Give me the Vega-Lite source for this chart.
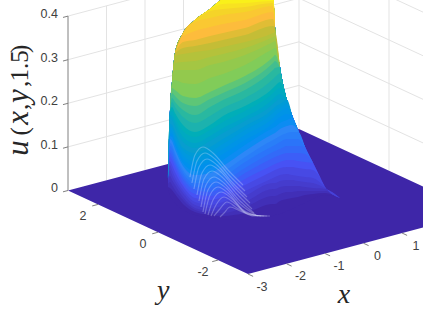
{"$schema":"https://vega.github.io/schema/vega-lite/v6.json","width":423,"height":317,"padding":0,"autosize":{"type":"none"},"background":"white","config":{"view":{"stroke":null}},
"datasets":{
"sil":[{"p":168,"top":178,"bot":190},{"p":170,"top":110,"bot":196},{"p":172,"top":82,"bot":199},{"p":175,"top":53,"bot":203},{"p":183,"top":33,"bot":210},{"p":195,"top":20,"bot":215},{"p":210,"top":9,"bot":218},{"p":223,"top":-1,"bot":219},{"p":245,"top":-5,"bot":220},{"p":273,"top":-5,"bot":216},{"p":275,"top":27,"bot":215},{"p":280,"top":67,"bot":214},{"p":287,"top":100,"bot":211},{"p":292,"top":115,"bot":209},{"p":298,"top":130,"bot":206},{"p":305,"top":147,"bot":203},{"p":313,"top":163,"bot":199},{"p":325,"top":187,"bot":195},{"p":340,"top":198,"bot":198}],
"floor":[{"p":68,"top":190.5,"bot":190.5},{"p":248,"top":142.8,"bot":274},{"p":299,"top":129,"bot":260.5},{"p":479,"top":212.5,"bot":212.5}],
"grid":[{"x":-2,"y":3,"u":0,"x2":-2,"y2":3,"u2":0.4},{"x":-1,"y":3,"u":0,"x2":-1,"y2":3,"u2":0.4},{"x":0,"y":3,"u":0,"x2":0,"y2":3,"u2":0.4},{"x":1,"y":3,"u":0,"x2":1,"y2":3,"u2":0.4},{"x":2,"y":3,"u":0,"x2":2,"y2":3,"u2":0.4},{"x":3,"y":3,"u":0,"x2":3,"y2":3,"u2":0.4},{"x":3,"y":2,"u":0,"x2":3,"y2":2,"u2":0.4},{"x":3,"y":0,"u":0,"x2":3,"y2":0,"u2":0.4},{"x":-3,"y":3,"u":0.1,"x2":3,"y2":3,"u2":0.1},{"x":-3,"y":3,"u":0.2,"x2":3,"y2":3,"u2":0.2},{"x":-3,"y":3,"u":0.3,"x2":3,"y2":3,"u2":0.3},{"x":-3,"y":3,"u":0.4,"x2":3,"y2":3,"u2":0.4},{"x":3,"y":3,"u":0.1,"x2":3,"y2":-3,"u2":0.1},{"x":3,"y":3,"u":0.2,"x2":3,"y2":-3,"u2":0.2},{"x":3,"y":3,"u":0.3,"x2":3,"y2":-3,"u2":0.3},{"x":3,"y":3,"u":0.4,"x2":3,"y2":-3,"u2":0.4}],
"ticks":[{"x":-3,"y":3,"u":0,"x2":-3,"y2":3,"u2":0.4},{"x":-3,"y":3,"u":0,"x2":-3.13,"y2":3,"u2":0},{"x":-3,"y":3,"u":0.1,"x2":-3.13,"y2":3,"u2":0.1},{"x":-3,"y":3,"u":0.2,"x2":-3.13,"y2":3,"u2":0.2},{"x":-3,"y":3,"u":0.3,"x2":-3.13,"y2":3,"u2":0.3},{"x":-3,"y":3,"u":0.4,"x2":-3.13,"y2":3,"u2":0.4},{"x":-3,"y":2,"u":0,"x2":-3.15,"y2":2,"u2":0},{"x":-3,"y":0,"u":0,"x2":-3.15,"y2":0,"u2":0},{"x":-3,"y":-2,"u":0,"x2":-3.15,"y2":-2,"u2":0},{"x":-3,"y":-3,"u":0,"x2":-3,"y2":-3.17,"u2":0},{"x":-2,"y":-3,"u":0,"x2":-2,"y2":-3.17,"u2":0},{"x":-1,"y":-3,"u":0,"x2":-1,"y2":-3.17,"u2":0},{"x":0,"y":-3,"u":0,"x2":0,"y2":-3.17,"u2":0},{"x":1,"y":-3,"u":0,"x2":1,"y2":-3.17,"u2":0}],
"labels":[{"axis":"u","x":-3,"y":3,"u":0,"label":"0"},{"axis":"u","x":-3,"y":3,"u":0.1,"label":"0.1"},{"axis":"u","x":-3,"y":3,"u":0.2,"label":"0.2"},{"axis":"u","x":-3,"y":3,"u":0.3,"label":"0.3"},{"axis":"u","x":-3,"y":3,"u":0.4,"label":"0.4"},{"axis":"y","x":-3,"y":2,"u":0,"label":"2"},{"axis":"y","x":-3,"y":0,"u":0,"label":"0"},{"axis":"y","x":-3,"y":-2,"u":0,"label":"-2"},{"axis":"x","x":-3,"y":-3,"u":0,"label":"-3"},{"axis":"x","x":-2,"y":-3,"u":0,"label":"-2"},{"axis":"x","x":-1,"y":-3,"u":0,"label":"-1"},{"axis":"x","x":0,"y":-3,"u":0,"label":"0"},{"axis":"x","x":1,"y":-3,"u":0,"label":"1"}],
"titles":[{"x":-2.16,"y":-5.12,"u":0,"label":"x"},{"x":-5.0,"y":-2.74,"u":0,"label":"y"}],
"zit":[{"x":-3.665,"y":3.48,"u":0.098,"label":"u"},{"x":-3.665,"y":3.48,"u":0.167,"label":"x"},{"x":-3.665,"y":3.48,"u":0.217,"label":"y"}],
"zrm":[{"x":-3.665,"y":3.48,"u":0.136,"label":"("},{"x":-3.665,"y":3.48,"u":0.192,"label":","},{"x":-3.665,"y":3.48,"u":0.245,"label":","},{"x":-3.665,"y":3.48,"u":0.286,"label":"1.5"},{"x":-3.665,"y":3.48,"u":0.325,"label":")"}],
"arcs":[{"a":0,"p":190,"y":177},{"a":0,"p":195,"y":155},{"a":0,"p":203,"y":147},{"a":0,"p":213,"y":153},{"a":0,"p":227,"y":169},{"a":0,"p":243,"y":185},{"a":1,"p":192,"y":183},{"a":1,"p":197,"y":161},{"a":1,"p":205,"y":153},{"a":1,"p":215,"y":159},{"a":1,"p":229,"y":175},{"a":1,"p":245,"y":191},{"a":2,"p":194,"y":189},{"a":2,"p":199,"y":167},{"a":2,"p":207,"y":159},{"a":2,"p":217,"y":165},{"a":2,"p":231,"y":181},{"a":2,"p":247,"y":197},{"a":3,"p":197,"y":195},{"a":3,"p":202,"y":173},{"a":3,"p":210,"y":165},{"a":3,"p":220,"y":171},{"a":3,"p":234,"y":187},{"a":3,"p":250,"y":203},{"a":4,"p":199,"y":201},{"a":4,"p":204,"y":179},{"a":4,"p":212,"y":171},{"a":4,"p":222,"y":177},{"a":4,"p":236,"y":193},{"a":4,"p":252,"y":209},{"a":5,"p":201,"y":207},{"a":5,"p":206,"y":185},{"a":5,"p":214,"y":177},{"a":5,"p":224,"y":183},{"a":5,"p":238,"y":199},{"a":5,"p":254,"y":213},{"a":6,"p":203,"y":212},{"a":6,"p":208,"y":190},{"a":6,"p":216,"y":182},{"a":6,"p":226,"y":188},{"a":6,"p":240,"y":204},{"a":6,"p":256,"y":215},{"a":7,"p":205,"y":214},{"a":7,"p":210,"y":195},{"a":7,"p":218,"y":187},{"a":7,"p":228,"y":193},{"a":7,"p":242,"y":209},{"a":7,"p":258,"y":216},{"a":8,"p":208,"y":215},{"a":8,"p":213,"y":200},{"a":8,"p":221,"y":192},{"a":8,"p":231,"y":198},{"a":8,"p":245,"y":212},{"a":8,"p":261,"y":216},{"a":9,"p":211,"y":216},{"a":9,"p":216,"y":205},{"a":9,"p":224,"y":197},{"a":9,"p":234,"y":203},{"a":9,"p":248,"y":214},{"a":9,"p":264,"y":216},{"a":10,"p":214,"y":216},{"a":10,"p":219,"y":210},{"a":10,"p":227,"y":202},{"a":10,"p":237,"y":208},{"a":10,"p":251,"y":215},{"a":10,"p":267,"y":216},{"a":11,"p":220,"y":217},{"a":11,"p":224,"y":213},{"a":11,"p":230,"y":207},{"a":11,"p":240,"y":211},{"a":11,"p":254,"y":216},{"a":11,"p":270,"y":216}],
"iso":[
{"t":0.02,"p":168,"y":187},{"t":0.02,"p":170,"y":188},{"t":0.02,"p":172,"y":190},{"t":0.02,"p":175,"y":194},{"t":0.02,"p":183,"y":204},{"t":0.02,"p":195,"y":212},{"t":0.02,"p":210,"y":215},{"t":0.02,"p":223,"y":216},{"t":0.02,"p":245,"y":213},{"t":0.02,"p":273,"y":204},{"t":0.02,"p":275,"y":204},{"t":0.02,"p":280,"y":201},{"t":0.02,"p":287,"y":199},{"t":0.02,"p":292,"y":198},{"t":0.02,"p":298,"y":197},{"t":0.02,"p":305,"y":195},{"t":0.02,"p":313,"y":194},{"t":0.02,"p":325,"y":193},{"t":0.02,"p":340,"y":198},
{"t":0.035,"p":168,"y":184},{"t":0.035,"p":170,"y":182},{"t":0.035,"p":172,"y":185},{"t":0.035,"p":175,"y":190},{"t":0.035,"p":183,"y":200},{"t":0.035,"p":195,"y":210},{"t":0.035,"p":210,"y":213},{"t":0.035,"p":223,"y":213},{"t":0.035,"p":245,"y":207},{"t":0.035,"p":273,"y":196},{"t":0.035,"p":275,"y":196},{"t":0.035,"p":280,"y":194},{"t":0.035,"p":287,"y":192},{"t":0.035,"p":292,"y":192},{"t":0.035,"p":298,"y":191},{"t":0.035,"p":305,"y":191},{"t":0.035,"p":313,"y":191},{"t":0.035,"p":325,"y":191},{"t":0.035,"p":340,"y":198},
{"t":0.05,"p":168,"y":182},{"t":0.05,"p":170,"y":176},{"t":0.05,"p":172,"y":180},{"t":0.05,"p":175,"y":185},{"t":0.05,"p":183,"y":197},{"t":0.05,"p":195,"y":208},{"t":0.05,"p":210,"y":211},{"t":0.05,"p":223,"y":210},{"t":0.05,"p":245,"y":202},{"t":0.05,"p":273,"y":189},{"t":0.05,"p":275,"y":189},{"t":0.05,"p":280,"y":187},{"t":0.05,"p":287,"y":186},{"t":0.05,"p":292,"y":186},{"t":0.05,"p":298,"y":186},{"t":0.05,"p":305,"y":187},{"t":0.05,"p":313,"y":188},{"t":0.05,"p":325,"y":189},{"t":0.05,"p":340,"y":198},
{"t":0.065,"p":168,"y":180},{"t":0.065,"p":170,"y":170},{"t":0.065,"p":172,"y":175},{"t":0.065,"p":175,"y":181},{"t":0.065,"p":183,"y":193},{"t":0.065,"p":195,"y":205},{"t":0.065,"p":210,"y":208},{"t":0.065,"p":223,"y":206},{"t":0.065,"p":245,"y":196},{"t":0.065,"p":273,"y":183},{"t":0.065,"p":275,"y":183},{"t":0.065,"p":280,"y":181},{"t":0.065,"p":287,"y":180},{"t":0.065,"p":292,"y":180},{"t":0.065,"p":298,"y":181},{"t":0.065,"p":305,"y":182},{"t":0.065,"p":313,"y":183},{"t":0.065,"p":325,"y":188},{"t":0.065,"p":340,"y":198},
{"t":0.08,"p":168,"y":178},{"t":0.08,"p":170,"y":165},{"t":0.08,"p":172,"y":170},{"t":0.08,"p":175,"y":177},{"t":0.08,"p":183,"y":190},{"t":0.08,"p":195,"y":202},{"t":0.08,"p":210,"y":205},{"t":0.08,"p":223,"y":202},{"t":0.08,"p":245,"y":191},{"t":0.08,"p":273,"y":178},{"t":0.08,"p":275,"y":177},{"t":0.08,"p":280,"y":175},{"t":0.08,"p":287,"y":174},{"t":0.08,"p":292,"y":175},{"t":0.08,"p":298,"y":176},{"t":0.08,"p":305,"y":177},{"t":0.08,"p":313,"y":178},{"t":0.08,"p":325,"y":187},
{"t":0.1,"p":168,"y":178},{"t":0.1,"p":170,"y":161},{"t":0.1,"p":172,"y":165},{"t":0.1,"p":175,"y":172},{"t":0.1,"p":183,"y":186},{"t":0.1,"p":195,"y":198},{"t":0.1,"p":210,"y":200},{"t":0.1,"p":223,"y":197},{"t":0.1,"p":245,"y":185},{"t":0.1,"p":273,"y":171},{"t":0.1,"p":275,"y":170},{"t":0.1,"p":280,"y":168},{"t":0.1,"p":287,"y":167},{"t":0.1,"p":292,"y":167},{"t":0.1,"p":298,"y":168},{"t":0.1,"p":305,"y":169},{"t":0.1,"p":313,"y":170},{"t":0.1,"p":325,"y":187},
{"t":0.12,"p":168,"y":178},{"t":0.12,"p":170,"y":157},{"t":0.12,"p":172,"y":160},{"t":0.12,"p":175,"y":167},{"t":0.12,"p":183,"y":183},{"t":0.12,"p":195,"y":194},{"t":0.12,"p":210,"y":196},{"t":0.12,"p":223,"y":192},{"t":0.12,"p":245,"y":179},{"t":0.12,"p":273,"y":165},{"t":0.12,"p":275,"y":164},{"t":0.12,"p":280,"y":162},{"t":0.12,"p":287,"y":160},{"t":0.12,"p":292,"y":160},{"t":0.12,"p":298,"y":161},{"t":0.12,"p":305,"y":162},{"t":0.12,"p":313,"y":163},
{"t":0.14,"p":168,"y":178},{"t":0.14,"p":170,"y":153},{"t":0.14,"p":172,"y":156},{"t":0.14,"p":175,"y":163},{"t":0.14,"p":183,"y":179},{"t":0.14,"p":195,"y":190},{"t":0.14,"p":210,"y":192},{"t":0.14,"p":223,"y":187},{"t":0.14,"p":245,"y":173},{"t":0.14,"p":273,"y":158},{"t":0.14,"p":275,"y":157},{"t":0.14,"p":280,"y":155},{"t":0.14,"p":287,"y":153},{"t":0.14,"p":292,"y":153},{"t":0.14,"p":298,"y":153},{"t":0.14,"p":305,"y":154},{"t":0.14,"p":313,"y":163},
{"t":0.16,"p":168,"y":178},{"t":0.16,"p":170,"y":150},{"t":0.16,"p":172,"y":152},{"t":0.16,"p":175,"y":160},{"t":0.16,"p":183,"y":176},{"t":0.16,"p":195,"y":187},{"t":0.16,"p":210,"y":188},{"t":0.16,"p":223,"y":182},{"t":0.16,"p":245,"y":168},{"t":0.16,"p":273,"y":152},{"t":0.16,"p":275,"y":151},{"t":0.16,"p":280,"y":149},{"t":0.16,"p":287,"y":146},{"t":0.16,"p":292,"y":146},{"t":0.16,"p":298,"y":146},{"t":0.16,"p":305,"y":147},
{"t":0.18,"p":168,"y":178},{"t":0.18,"p":170,"y":146},{"t":0.18,"p":172,"y":148},{"t":0.18,"p":175,"y":156},{"t":0.18,"p":183,"y":173},{"t":0.18,"p":195,"y":183},{"t":0.18,"p":210,"y":183},{"t":0.18,"p":223,"y":177},{"t":0.18,"p":245,"y":162},{"t":0.18,"p":273,"y":146},{"t":0.18,"p":275,"y":145},{"t":0.18,"p":280,"y":142},{"t":0.18,"p":287,"y":139},{"t":0.18,"p":292,"y":139},{"t":0.18,"p":298,"y":139},{"t":0.18,"p":305,"y":138},
{"t":0.2,"p":168,"y":178},{"t":0.2,"p":170,"y":143},{"t":0.2,"p":172,"y":145},{"t":0.2,"p":175,"y":153},{"t":0.2,"p":183,"y":170},{"t":0.2,"p":195,"y":180},{"t":0.2,"p":210,"y":179},{"t":0.2,"p":223,"y":172},{"t":0.2,"p":245,"y":157},{"t":0.2,"p":273,"y":140},{"t":0.2,"p":275,"y":139},{"t":0.2,"p":280,"y":136},{"t":0.2,"p":287,"y":133},{"t":0.2,"p":292,"y":132},{"t":0.2,"p":298,"y":132},{"t":0.2,"p":305,"y":130},
{"t":0.225,"p":168,"y":178},{"t":0.225,"p":170,"y":139},{"t":0.225,"p":172,"y":141},{"t":0.225,"p":175,"y":149},{"t":0.225,"p":183,"y":166},{"t":0.225,"p":195,"y":175},{"t":0.225,"p":210,"y":173},{"t":0.225,"p":223,"y":166},{"t":0.225,"p":245,"y":151},{"t":0.225,"p":273,"y":134},{"t":0.225,"p":275,"y":133},{"t":0.225,"p":280,"y":129},{"t":0.225,"p":287,"y":126},{"t":0.225,"p":292,"y":125},{"t":0.225,"p":298,"y":124},
{"t":0.25,"p":168,"y":178},{"t":0.25,"p":170,"y":136},{"t":0.25,"p":172,"y":137},{"t":0.25,"p":175,"y":145},{"t":0.25,"p":183,"y":163},{"t":0.25,"p":195,"y":171},{"t":0.25,"p":210,"y":168},{"t":0.25,"p":223,"y":160},{"t":0.25,"p":245,"y":145},{"t":0.25,"p":273,"y":128},{"t":0.25,"p":275,"y":127},{"t":0.25,"p":280,"y":123},{"t":0.25,"p":287,"y":120},{"t":0.25,"p":292,"y":118},{"t":0.25,"p":298,"y":117},
{"t":0.275,"p":168,"y":178},{"t":0.275,"p":170,"y":133},{"t":0.275,"p":172,"y":134},{"t":0.275,"p":175,"y":142},{"t":0.275,"p":183,"y":159},{"t":0.275,"p":195,"y":166},{"t":0.275,"p":210,"y":162},{"t":0.275,"p":223,"y":154},{"t":0.275,"p":245,"y":140},{"t":0.275,"p":273,"y":123},{"t":0.275,"p":275,"y":121},{"t":0.275,"p":280,"y":117},{"t":0.275,"p":287,"y":114},{"t":0.275,"p":292,"y":112},
{"t":0.3,"p":168,"y":178},{"t":0.3,"p":170,"y":130},{"t":0.3,"p":172,"y":131},{"t":0.3,"p":175,"y":139},{"t":0.3,"p":183,"y":155},{"t":0.3,"p":195,"y":162},{"t":0.3,"p":210,"y":157},{"t":0.3,"p":223,"y":149},{"t":0.3,"p":245,"y":135},{"t":0.3,"p":273,"y":118},{"t":0.3,"p":275,"y":116},{"t":0.3,"p":280,"y":112},{"t":0.3,"p":287,"y":108},{"t":0.3,"p":292,"y":106},
{"t":0.325,"p":168,"y":178},{"t":0.325,"p":170,"y":127},{"t":0.325,"p":172,"y":128},{"t":0.325,"p":175,"y":135},{"t":0.325,"p":183,"y":151},{"t":0.325,"p":195,"y":157},{"t":0.325,"p":210,"y":152},{"t":0.325,"p":223,"y":144},{"t":0.325,"p":245,"y":130},{"t":0.325,"p":273,"y":113},{"t":0.325,"p":275,"y":111},{"t":0.325,"p":280,"y":108},{"t":0.325,"p":287,"y":104},{"t":0.325,"p":292,"y":103},
{"t":0.35,"p":168,"y":178},{"t":0.35,"p":170,"y":124},{"t":0.35,"p":172,"y":125},{"t":0.35,"p":175,"y":132},{"t":0.35,"p":183,"y":148},{"t":0.35,"p":195,"y":153},{"t":0.35,"p":210,"y":147},{"t":0.35,"p":223,"y":139},{"t":0.35,"p":245,"y":126},{"t":0.35,"p":273,"y":109},{"t":0.35,"p":275,"y":107},{"t":0.35,"p":280,"y":104},{"t":0.35,"p":287,"y":100},{"t":0.35,"p":292,"y":100},
{"t":0.38,"p":168,"y":178},{"t":0.38,"p":170,"y":119},{"t":0.38,"p":172,"y":120},{"t":0.38,"p":175,"y":127},{"t":0.38,"p":183,"y":142},{"t":0.38,"p":195,"y":148},{"t":0.38,"p":210,"y":141},{"t":0.38,"p":223,"y":133},{"t":0.38,"p":245,"y":121},{"t":0.38,"p":273,"y":104},{"t":0.38,"p":275,"y":102},{"t":0.38,"p":280,"y":99},{"t":0.38,"p":287,"y":95},
{"t":0.41,"p":168,"y":178},{"t":0.41,"p":170,"y":115},{"t":0.41,"p":172,"y":116},{"t":0.41,"p":175,"y":122},{"t":0.41,"p":183,"y":137},{"t":0.41,"p":195,"y":143},{"t":0.41,"p":210,"y":136},{"t":0.41,"p":223,"y":128},{"t":0.41,"p":245,"y":117},{"t":0.41,"p":273,"y":99},{"t":0.41,"p":275,"y":97},{"t":0.41,"p":280,"y":94},{"t":0.41,"p":287,"y":90},
{"t":0.44,"p":168,"y":178},{"t":0.44,"p":170,"y":113},{"t":0.44,"p":172,"y":111},{"t":0.44,"p":175,"y":117},{"t":0.44,"p":183,"y":131},{"t":0.44,"p":195,"y":137},{"t":0.44,"p":210,"y":130},{"t":0.44,"p":223,"y":122},{"t":0.44,"p":245,"y":111},{"t":0.44,"p":273,"y":93},{"t":0.44,"p":275,"y":91},{"t":0.44,"p":280,"y":88},{"t":0.44,"p":287,"y":84},
{"t":0.47,"p":168,"y":178},{"t":0.47,"p":170,"y":111},{"t":0.47,"p":172,"y":107},{"t":0.47,"p":175,"y":113},{"t":0.47,"p":183,"y":125},{"t":0.47,"p":195,"y":132},{"t":0.47,"p":210,"y":125},{"t":0.47,"p":223,"y":116},{"t":0.47,"p":245,"y":106},{"t":0.47,"p":273,"y":88},{"t":0.47,"p":275,"y":86},{"t":0.47,"p":280,"y":82},{"t":0.47,"p":287,"y":78},
{"t":0.505,"p":170,"y":105},{"t":0.505,"p":172,"y":102},{"t":0.505,"p":175,"y":107},{"t":0.505,"p":183,"y":117},{"t":0.505,"p":195,"y":123},{"t":0.505,"p":210,"y":116},{"t":0.505,"p":223,"y":108},{"t":0.505,"p":245,"y":98},{"t":0.505,"p":273,"y":79},{"t":0.505,"p":275,"y":77},{"t":0.505,"p":280,"y":73},
{"t":0.54,"p":170,"y":100},{"t":0.54,"p":172,"y":98},{"t":0.54,"p":175,"y":102},{"t":0.54,"p":183,"y":110},{"t":0.54,"p":195,"y":115},{"t":0.54,"p":210,"y":107},{"t":0.54,"p":223,"y":100},{"t":0.54,"p":245,"y":90},{"t":0.54,"p":273,"y":70},{"t":0.54,"p":275,"y":68},{"t":0.54,"p":280,"y":65},
{"t":0.58,"p":170,"y":90},{"t":0.58,"p":172,"y":93},{"t":0.58,"p":175,"y":96},{"t":0.58,"p":183,"y":103},{"t":0.58,"p":195,"y":106},{"t":0.58,"p":210,"y":99},{"t":0.58,"p":223,"y":93},{"t":0.58,"p":245,"y":83},{"t":0.58,"p":273,"y":63},{"t":0.58,"p":275,"y":61},{"t":0.58,"p":280,"y":57},
{"t":0.62,"p":170,"y":80},{"t":0.62,"p":172,"y":88},{"t":0.62,"p":175,"y":90},{"t":0.62,"p":183,"y":96},{"t":0.62,"p":195,"y":98},{"t":0.62,"p":210,"y":92},{"t":0.62,"p":223,"y":86},{"t":0.62,"p":245,"y":76},{"t":0.62,"p":273,"y":57},{"t":0.62,"p":275,"y":55},{"t":0.62,"p":280,"y":50},
{"t":0.66,"p":170,"y":70},{"t":0.66,"p":172,"y":80},{"t":0.66,"p":175,"y":80},{"t":0.66,"p":183,"y":83},{"t":0.66,"p":195,"y":84},{"t":0.66,"p":210,"y":78},{"t":0.66,"p":223,"y":74},{"t":0.66,"p":245,"y":65},{"t":0.66,"p":273,"y":49},{"t":0.66,"p":275,"y":48},{"t":0.66,"p":280,"y":44},
{"t":0.7,"p":170,"y":60},{"t":0.7,"p":172,"y":72},{"t":0.7,"p":175,"y":70},{"t":0.7,"p":183,"y":70},{"t":0.7,"p":195,"y":70},{"t":0.7,"p":210,"y":65},{"t":0.7,"p":223,"y":62},{"t":0.7,"p":245,"y":55},{"t":0.7,"p":273,"y":42},{"t":0.7,"p":275,"y":41},{"t":0.7,"p":280,"y":38},
{"t":0.74,"p":172,"y":66},{"t":0.74,"p":175,"y":63},{"t":0.74,"p":183,"y":62},{"t":0.74,"p":195,"y":61},{"t":0.74,"p":210,"y":57},{"t":0.74,"p":223,"y":54},{"t":0.74,"p":245,"y":48},{"t":0.74,"p":273,"y":37},{"t":0.74,"p":275,"y":36},{"t":0.74,"p":280,"y":34},
{"t":0.78,"p":172,"y":60},{"t":0.78,"p":175,"y":56},{"t":0.78,"p":183,"y":54},{"t":0.78,"p":195,"y":52},{"t":0.78,"p":210,"y":50},{"t":0.78,"p":223,"y":47},{"t":0.78,"p":245,"y":42},{"t":0.78,"p":273,"y":33},{"t":0.78,"p":275,"y":32},{"t":0.78,"p":280,"y":30},
{"t":0.82,"p":175,"y":50},{"t":0.82,"p":183,"y":48},{"t":0.82,"p":195,"y":46},{"t":0.82,"p":210,"y":43},{"t":0.82,"p":223,"y":40},{"t":0.82,"p":245,"y":35},{"t":0.82,"p":273,"y":26},{"t":0.82,"p":275,"y":25},
{"t":0.86,"p":175,"y":44},{"t":0.86,"p":183,"y":42},{"t":0.86,"p":195,"y":40},{"t":0.86,"p":210,"y":36},{"t":0.86,"p":223,"y":33},{"t":0.86,"p":245,"y":28},{"t":0.86,"p":273,"y":19},{"t":0.86,"p":275,"y":19},
{"t":0.895,"p":183,"y":36},{"t":0.895,"p":195,"y":31},{"t":0.895,"p":210,"y":27},{"t":0.895,"p":223,"y":24},{"t":0.895,"p":245,"y":20},{"t":0.895,"p":273,"y":12},{"t":0.895,"p":275,"y":12},
{"t":0.93,"p":183,"y":30},{"t":0.93,"p":195,"y":22},{"t":0.93,"p":210,"y":18},{"t":0.93,"p":223,"y":15},{"t":0.93,"p":245,"y":12},{"t":0.93,"p":273,"y":6},{"t":0.93,"p":275,"y":5},
{"t":0.955,"p":195,"y":14},{"t":0.955,"p":210,"y":11},{"t":0.955,"p":223,"y":9},{"t":0.955,"p":245,"y":7},{"t":0.955,"p":273,"y":3},{"t":0.955,"p":275,"y":2},
{"t":0.98,"p":195,"y":5},{"t":0.98,"p":210,"y":5},{"t":0.98,"p":223,"y":4},{"t":0.98,"p":245,"y":3},{"t":0.98,"p":273,"y":1},{"t":0.98,"p":275,"y":0}
]},
"layer":[
{"data":{"name":"grid"},"transform":[{"calculate":"273.5+38.5*datum.x-30*datum.y","as":"sx"},{"calculate":"201.5-10.25*datum.x-13.92*datum.y-436*datum.u","as":"sy"},{"calculate":"273.5+38.5*datum.x2-30*datum.y2","as":"sx2"},{"calculate":"201.5-10.25*datum.x2-13.92*datum.y2-436*datum.u2","as":"sy2"}],
"mark":{"type":"rule","color":"#E3E3E3","strokeWidth":1,"clip":true},
"encoding":{"x":{"field":"sx","type":"quantitative","scale":{"domain":[0,423],"nice":false,"zero":false},"axis":null},"y":{"field":"sy","type":"quantitative","scale":{"domain":[317,0],"nice":false,"zero":false},"axis":null},"x2":{"field":"sx2"},"y2":{"field":"sy2"}}},
{"data":{"name":"floor"},"mark":{"type":"area","fill":"#3E26A8","clip":true},
"encoding":{"x":{"field":"p","type":"quantitative"},"y":{"field":"bot","type":"quantitative"},"y2":{"field":"top"}}},
{"data":{"name":"sil"},"mark":{"type":"area","fill":"#3E26A8","clip":true,"interpolate":"monotone"},
"encoding":{"x":{"field":"p","type":"quantitative"},"y":{"field":"bot","type":"quantitative"},"y2":{"field":"top"}}},
{"data":{"name":"iso"},"transform":[{"lookup":"p","from":{"data":{"name":"sil"},"key":"p","fields":["top","bot"]}},{"calculate":"max(datum.top,min(datum.bot,datum.y))","as":"yy"}],
"mark":{"type":"area","clip":true,"interpolate":"monotone"},
"encoding":{"x":{"field":"p","type":"quantitative"},"y":{"field":"yy","type":"quantitative"},"y2":{"field":"top"},"color":{"field":"t","type":"quantitative","legend":null,"scale":{"domain":[0,0.1,0.2,0.35,0.47,0.55,0.62,0.78,0.86,0.93,1],"range":["#3E26A8","#4752F4","#2D87F7","#079DCF","#1CB2AE","#4BBF8A","#81CC59","#C4BD36","#FDBC3C","#F5D428","#F9FB15"]}}}},
{"data":{"name":"arcs"},"mark":{"type":"line","interpolate":"monotone","stroke":"#DDE4FF","strokeWidth":1.2,"opacity":0.3,"clip":true},
"encoding":{"x":{"field":"p","type":"quantitative"},"y":{"field":"y","type":"quantitative"},"detail":{"field":"a"}}},
{"data":{"name":"ticks"},"transform":[{"calculate":"273.5+38.5*datum.x-30*datum.y","as":"sx"},{"calculate":"201.5-10.25*datum.x-13.92*datum.y-436*datum.u","as":"sy"},{"calculate":"273.5+38.5*datum.x2-30*datum.y2","as":"sx2"},{"calculate":"201.5-10.25*datum.x2-13.92*datum.y2-436*datum.u2","as":"sy2"}],
"mark":{"type":"rule","color":"#808080","strokeWidth":1,"clip":true},
"encoding":{"x":{"field":"sx","type":"quantitative"},"y":{"field":"sy","type":"quantitative"},"x2":{"field":"sx2"},"y2":{"field":"sy2"}}},
{"data":{"name":"labels"},"transform":[{"filter":"datum.axis=='u'"},{"calculate":"273.5+38.5*datum.x-30*datum.y","as":"sx"},{"calculate":"201.5-10.25*datum.x-13.92*datum.y-436*datum.u","as":"sy"}],
"mark":{"type":"text","font":"Liberation Sans","fontSize":12.5,"color":"#404040","align":"right","baseline":"middle","dx":-10,"dy":-2},
"encoding":{"x":{"field":"sx","type":"quantitative"},"y":{"field":"sy","type":"quantitative"},"text":{"field":"label"}}},
{"data":{"name":"labels"},"transform":[{"filter":"datum.axis=='y'"},{"calculate":"273.5+38.5*datum.x-30*datum.y","as":"sx"},{"calculate":"201.5-10.25*datum.x-13.92*datum.y-436*datum.u","as":"sy"}],
"mark":{"type":"text","font":"Liberation Sans","fontSize":12.5,"color":"#404040","align":"center","baseline":"middle","dx":-15,"dy":12},
"encoding":{"x":{"field":"sx","type":"quantitative"},"y":{"field":"sy","type":"quantitative"},"text":{"field":"label"}}},
{"data":{"name":"labels"},"transform":[{"filter":"datum.axis=='x'"},{"calculate":"273.5+38.5*datum.x-30*datum.y","as":"sx"},{"calculate":"201.5-10.25*datum.x-13.92*datum.y-436*datum.u","as":"sy"}],
"mark":{"type":"text","font":"Liberation Sans","fontSize":12.5,"color":"#404040","align":"center","baseline":"middle","dx":14,"dy":12.5},
"encoding":{"x":{"field":"sx","type":"quantitative"},"y":{"field":"sy","type":"quantitative"},"text":{"field":"label"}}},
{"data":{"name":"titles"},"transform":[{"calculate":"273.5+38.5*datum.x-30*datum.y","as":"sx"},{"calculate":"201.5-10.25*datum.x-13.92*datum.y-436*datum.u","as":"sy"}],
"mark":{"type":"text","font":"Liberation Serif","fontStyle":"italic","fontSize":28,"color":"#262626","align":"center","baseline":"middle"},
"encoding":{"x":{"field":"sx","type":"quantitative"},"y":{"field":"sy","type":"quantitative"},"text":{"field":"label"}}},
{"data":{"name":"zit"},"transform":[{"calculate":"273.5+38.5*datum.x-30*datum.y","as":"sx"},{"calculate":"201.5-10.25*datum.x-13.92*datum.y-436*datum.u","as":"sy"}],
"mark":{"type":"text","font":"Liberation Serif","fontStyle":"italic","fontSize":31,"color":"#262626","align":"center","baseline":"alphabetic","angle":270},
"encoding":{"x":{"field":"sx","type":"quantitative"},"y":{"field":"sy","type":"quantitative"},"text":{"field":"label"}}},
{"data":{"name":"zrm"},"transform":[{"calculate":"273.5+38.5*datum.x-30*datum.y","as":"sx"},{"calculate":"201.5-10.25*datum.x-13.92*datum.y-436*datum.u","as":"sy"}],
"mark":{"type":"text","font":"Liberation Serif","fontSize":25,"color":"#262626","align":"center","baseline":"alphabetic","angle":270},
"encoding":{"x":{"field":"sx","type":"quantitative"},"y":{"field":"sy","type":"quantitative"},"text":{"field":"label"}}}
]}
